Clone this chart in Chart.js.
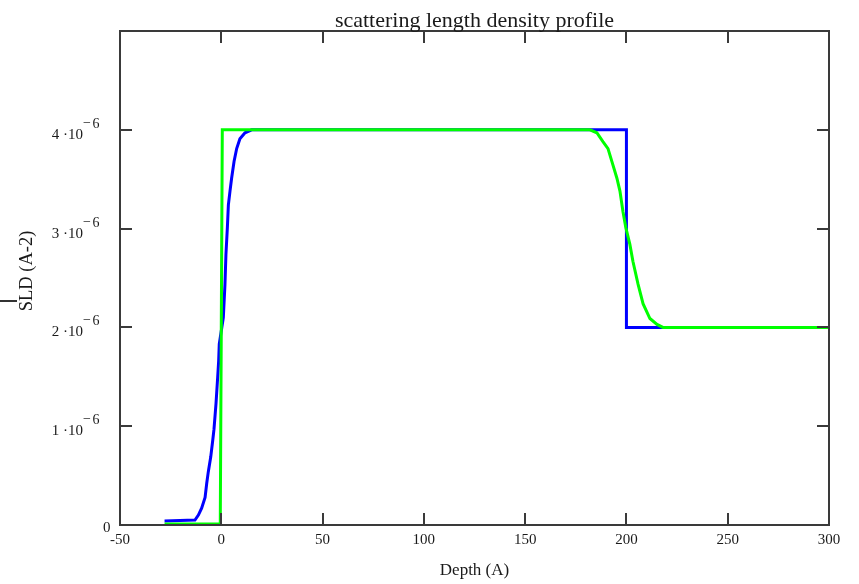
<!DOCTYPE html>
<html>
<head>
<meta charset="utf-8">
<script src="https://cdn.jsdelivr.net/npm/chart.js@4"></script>
<style>
  html, body { margin: 0; padding: 0; background: #fff; }
  #wrap { width: 859px; height: 584px; }
</style>
</head>
<body>
<div id="wrap"><canvas id="sldChart" width="859" height="584"></canvas></div>
<script>
// depth in Angstrom, SLD in units of 1e-6 A^-2
const depthBlue = [-28, -13, -11.3, -9.7, -8.0, -7.2, -6.4, -5.2, -4.2, -3.6, -2.6, -1.8, -1.3, -1.0,
  1.0, 1.8, 2.3, 3.0, 3.5, 4.3, 5.1, 6.3, 7.6, 9.2, 11.7, 15, 200, 200, 300];
const sldBlue = [0.04, 0.05, 0.1, 0.17, 0.28, 0.42, 0.54, 0.69, 0.86, 0.97, 1.23, 1.49, 1.66, 1.83,
  2.10, 2.43, 2.74, 3.01, 3.24, 3.38, 3.51, 3.68, 3.81, 3.91, 3.97, 4.0, 4.0, 2.0, 2.0];

const depthGreen = [-28, -0.5, 0, 0.5, 182, 185.4, 188.4, 190.9, 192.8, 195.3, 196.8, 198.3, 199.7,
  201.7, 203.2, 205.7, 208.2, 211.6, 215.1, 218, 300];
const sldGreen = [0.01, 0.01, 2.0, 4.0, 4.0, 3.97, 3.88, 3.81, 3.68, 3.51, 3.38, 3.17, 3.01,
  2.84, 2.67, 2.44, 2.24, 2.09, 2.03, 2.0, 2.0];

const xTickValues = [0, 50, 100, 150, 200, 250];
const yTickValues = [1, 2, 3, 4];
const yExponent = "6";
const chartTitle = "scattering length density profile";
const xTitle = "Depth (A)";
const yTitle = "SLD (A-2)";

const serif = '"Liberation Serif", "Times New Roman", serif';
const textColor = "#1a1a1a";
const frameColor = "#3a3a3a";

function toPoints(xs, ys) {
  return xs.map((x, i) => ({ x: x, y: ys[i] }));
}

const framePlugin = {
  id: "mathcadFrame",
  afterDraw(chart) {
    const { ctx, chartArea } = chart;
    const xs = chart.scales.x;
    const ys = chart.scales.y;
    const { left, right, top, bottom } = chartArea;
    const tick = 12;

    ctx.save();
    ctx.strokeStyle = frameColor;
    ctx.lineWidth = 2;
    ctx.strokeRect(left, top, right - left, bottom - top);

    ctx.beginPath();
    xTickValues.forEach(v => {
      const px = Math.round(xs.getPixelForValue(v));
      ctx.moveTo(px, bottom);
      ctx.lineTo(px, bottom - tick);
      ctx.moveTo(px, top);
      ctx.lineTo(px, top + tick);
    });
    yTickValues.forEach(v => {
      const py = Math.round(ys.getPixelForValue(v));
      ctx.moveTo(left, py);
      ctx.lineTo(left + tick, py);
      ctx.moveTo(right, py);
      ctx.lineTo(right - tick, py);
    });
    ctx.stroke();

    // y tick labels like "4 ·10^-6"
    ctx.fillStyle = textColor;
    yTickValues.forEach(v => {
      const py = ys.getPixelForValue(v);
      ctx.font = "15px " + serif;
      ctx.textAlign = "right";
      ctx.textBaseline = "alphabetic";
      ctx.fillText(v + " \u00B710", 83, py + 9);
      ctx.font = "14px " + serif;
      ctx.textAlign = "left";
      ctx.fillText("\u2212", 83, py - 3);
      ctx.fillText(yExponent, 92.5, py - 2);
    });
    ctx.font = "15px " + serif;
    ctx.textAlign = "left";
    ctx.fillText("0", 103, ys.getPixelForValue(0) + 7);

    // title
    ctx.font = "22px " + serif;
    ctx.textAlign = "center";
    ctx.fillText(chartTitle, (left + right) / 2, 27);

    // y axis title
    ctx.save();
    ctx.translate(27, 271);
    ctx.rotate(-Math.PI / 2);
    ctx.font = "18.5px " + serif;
    ctx.textAlign = "center";
    ctx.textBaseline = "middle";
    ctx.fillText(yTitle, 0, 0);
    ctx.restore();

    // small stray mark at the left edge
    ctx.fillStyle = "#333";
    ctx.fillRect(0, 300, 17, 2);
    ctx.restore();
  }
};

new Chart(document.getElementById("sldChart"), {
  type: "line",
  data: {
    datasets: [
      {
        label: "green",
        data: toPoints(depthGreen, sldGreen),
        borderColor: "#00ff00",
        borderWidth: 3,
        pointRadius: 0,
        tension: 0,
        fill: false,
        clip: 4
      },
      {
        label: "blue",
        data: toPoints(depthBlue, sldBlue),
        borderColor: "#0000ff",
        borderWidth: 3,
        pointRadius: 0,
        tension: 0,
        fill: false,
        clip: 4
      }
    ]
  },
  options: {
    responsive: false,
    animation: false,
    events: [],
    layout: {
      autoPadding: false,
      padding: { top: 31, right: 30, left: 0, bottom: 0 }
    },
    plugins: {
      legend: { display: false },
      tooltip: { enabled: false },
      title: { display: false }
    },
    scales: {
      x: {
        type: "linear",
        min: -50,
        max: 300,
        afterFit(scale) { scale.height = 59; },
        grid: { display: false },
        border: { display: false },
        ticks: {
          stepSize: 50,
          autoSkip: false,
          maxRotation: 0,
          padding: -2,
          color: textColor,
          font: { family: serif, size: 15 }
        },
        title: {
          display: true,
          text: xTitle,
          color: textColor,
          font: { family: serif, size: 17 },
          padding: { top: 0, bottom: 3 }
        }
      },
      y: {
        type: "linear",
        min: 0,
        max: 5,
        afterFit(scale) { scale.width = 120; },
        grid: { display: false },
        border: { display: false },
        ticks: { display: false, stepSize: 1 },
        title: { display: false }
      }
    }
  },
  plugins: [framePlugin]
});
</script>
</body>
</html>
